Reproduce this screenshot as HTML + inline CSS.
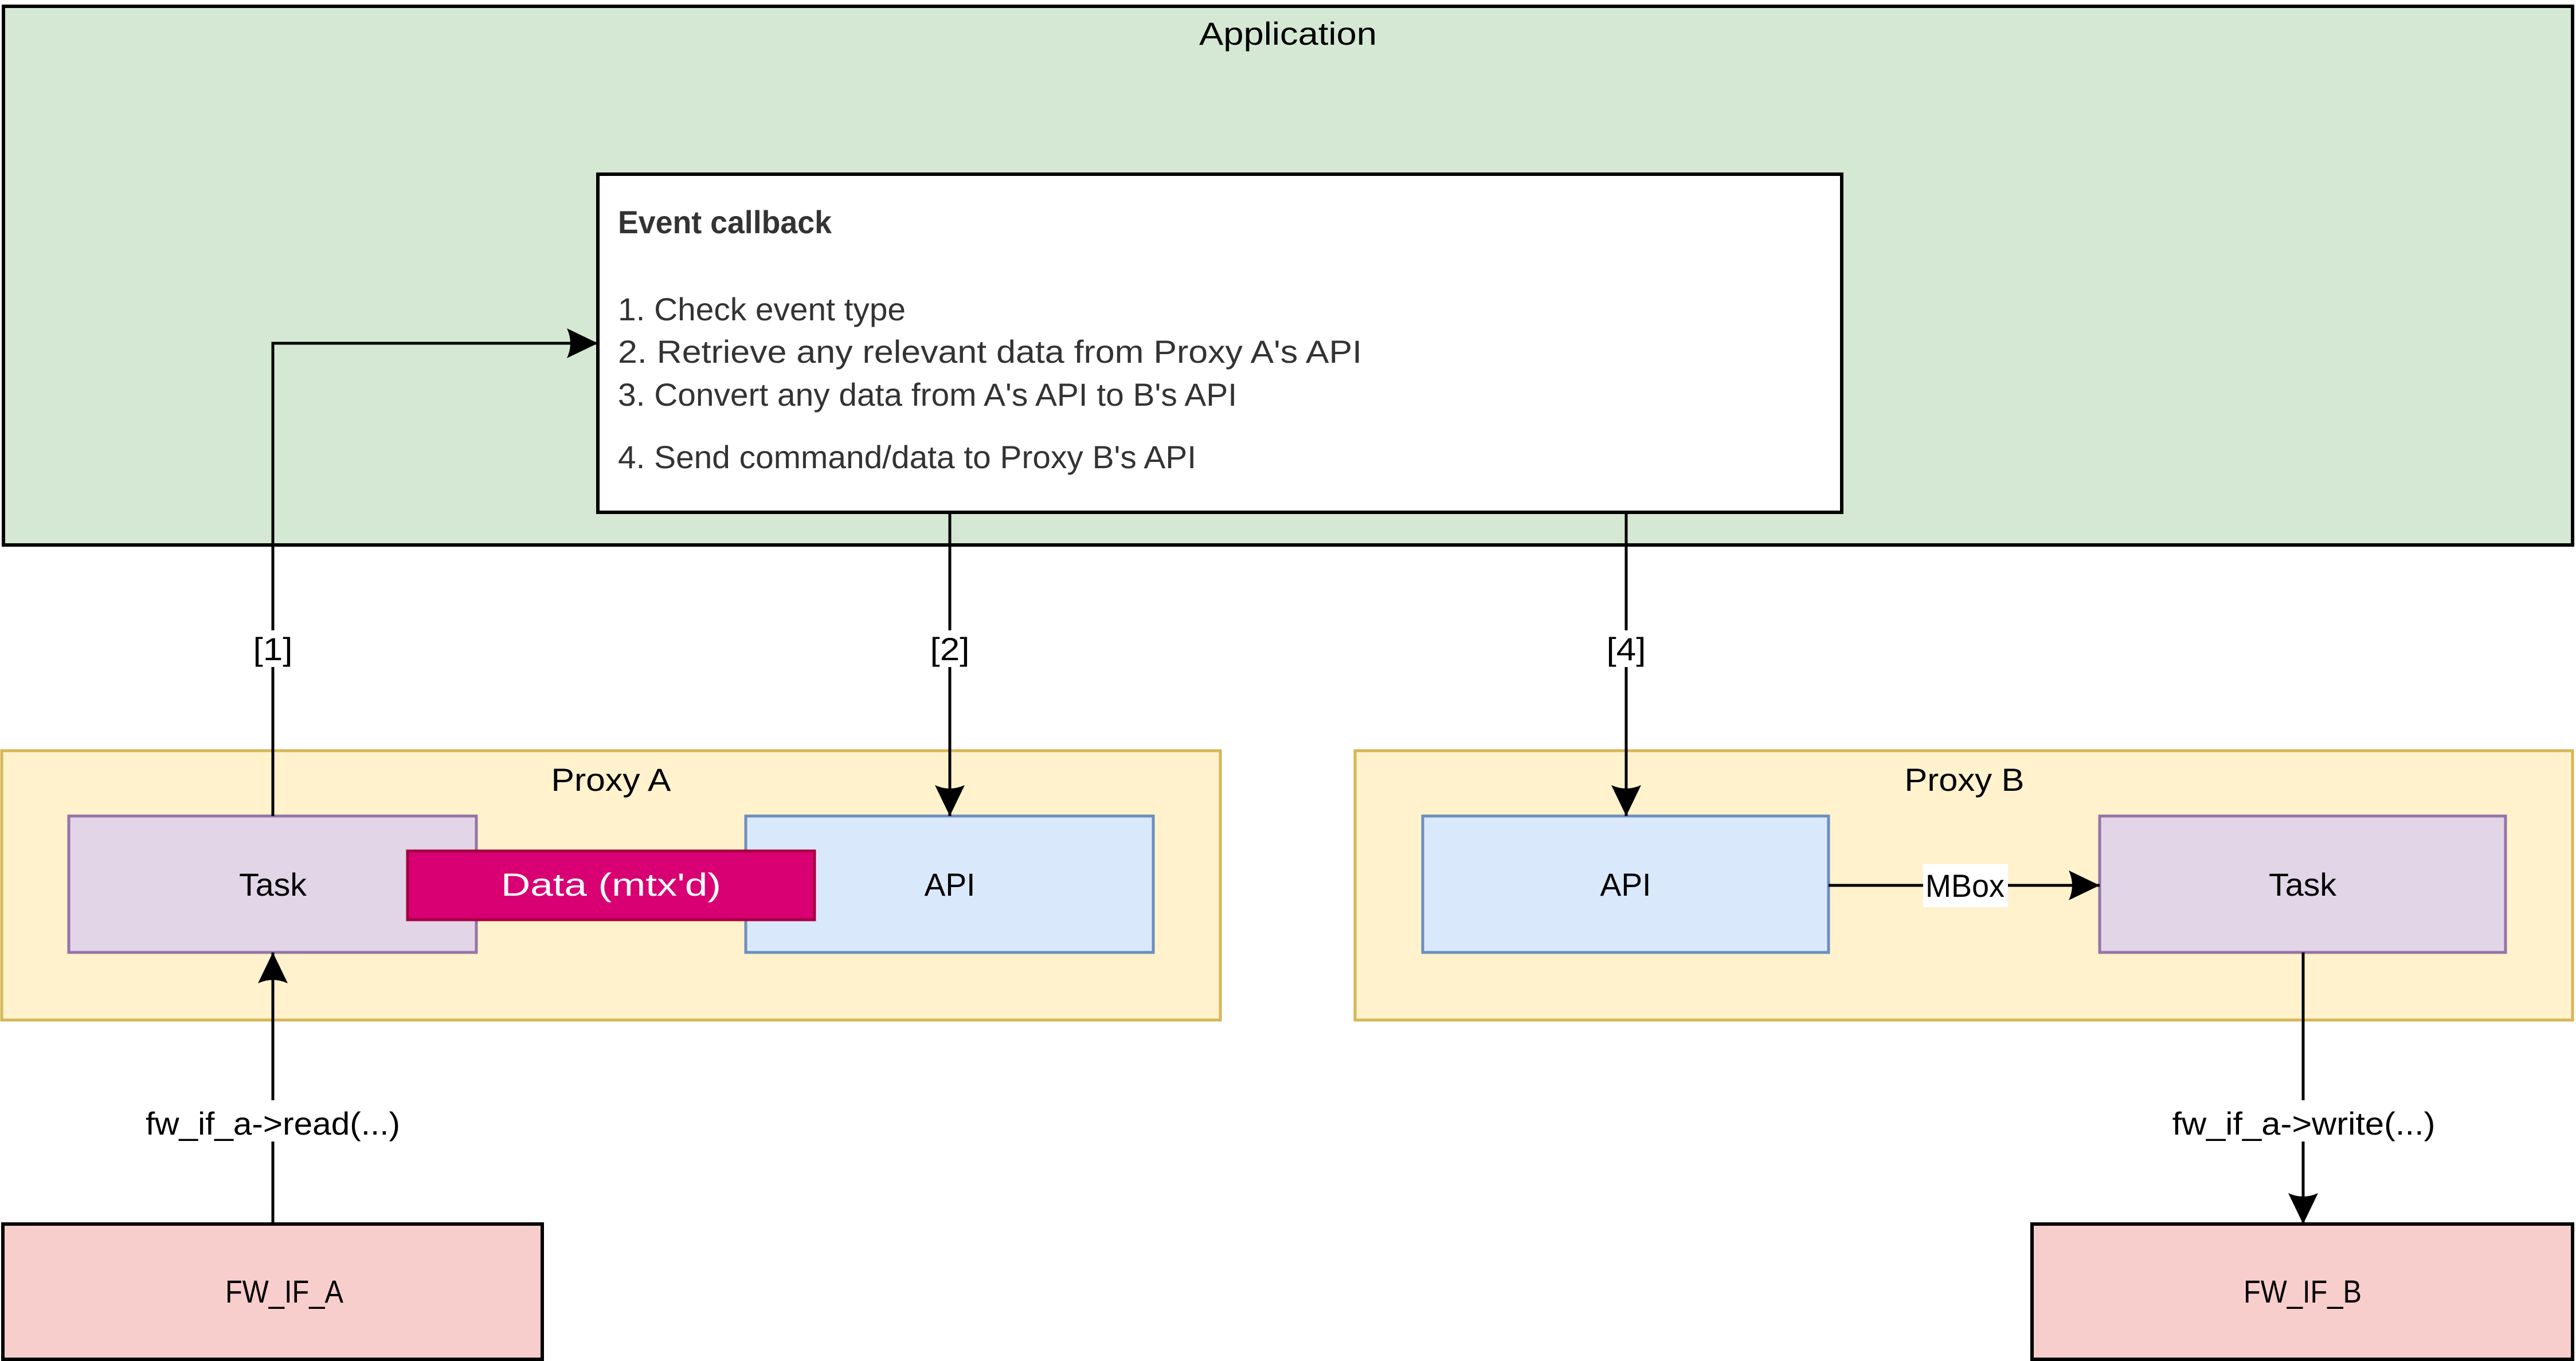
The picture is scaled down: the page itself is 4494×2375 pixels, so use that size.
<!DOCTYPE html>
<html><head><meta charset="utf-8"><style>html,body{margin:0;padding:0;background:#fff}svg{display:block}</style></head>
<body>
<svg width="4494" height="2375" viewBox="0 0 4494 2375" xmlns="http://www.w3.org/2000/svg" font-family="Liberation Sans, sans-serif" font-size="56">
<defs>
<marker id="ah" markerUnits="userSpaceOnUse" markerWidth="60" markerHeight="60" viewBox="0 0 60 60" refX="56" refY="30" orient="auto">
<path d="M2,4 L56,30 L2,56 Q14,30 2,4 Z" fill="#000"/>
</marker>
</defs>
<rect x="6" y="11" width="4482" height="940" fill="#d5e8d4" stroke="#000" stroke-width="6"/>
<text x="2247" y="78" text-anchor="middle" textLength="310" lengthAdjust="spacingAndGlyphs">Application</text>
<rect x="1043" y="304" width="2170" height="590" fill="#fff" stroke="#000" stroke-width="6"/>
<g fill="#333">
<text x="1078" y="407" font-weight="bold" textLength="373" lengthAdjust="spacingAndGlyphs">Event callback</text>
<text x="1078" y="559" textLength="502" lengthAdjust="spacingAndGlyphs">1. Check event type</text>
<text x="1078" y="633" textLength="1298" lengthAdjust="spacingAndGlyphs">2. Retrieve any relevant data from Proxy A's API</text>
<text x="1078" y="708" textLength="1080" lengthAdjust="spacingAndGlyphs">3. Convert any data from A's API to B's API</text>
<text x="1078" y="817" textLength="1009" lengthAdjust="spacingAndGlyphs">4. Send command/data to Proxy B's API</text>
</g>
<rect x="3" y="1310" width="2126" height="470" fill="#fff2cc" stroke="#d6b656" stroke-width="5"/>
<text x="1066" y="1380" text-anchor="middle" textLength="209" lengthAdjust="spacingAndGlyphs">Proxy A</text>
<rect x="120" y="1424" width="711" height="238" fill="#e1d5e7" stroke="#9673a6" stroke-width="5"/>
<text x="476" y="1563" text-anchor="middle" textLength="118" lengthAdjust="spacingAndGlyphs">Task</text>
<rect x="1301" y="1424" width="711" height="238" fill="#dae8fc" stroke="#6c8ebf" stroke-width="5"/>
<text x="1657" y="1563" text-anchor="middle" textLength="89" lengthAdjust="spacingAndGlyphs">API</text>
<rect x="711" y="1485" width="710" height="120" fill="#d80073" stroke="#a50040" stroke-width="5"/>
<text x="1066" y="1563" text-anchor="middle" fill="#fff" textLength="384" lengthAdjust="spacingAndGlyphs">Data (mtx'd)</text>
<rect x="2364" y="1310" width="2124" height="470" fill="#fff2cc" stroke="#d6b656" stroke-width="5"/>
<text x="3427" y="1380" text-anchor="middle" textLength="209" lengthAdjust="spacingAndGlyphs">Proxy B</text>
<rect x="2482" y="1424" width="708" height="238" fill="#dae8fc" stroke="#6c8ebf" stroke-width="5"/>
<text x="2836" y="1563" text-anchor="middle" textLength="89" lengthAdjust="spacingAndGlyphs">API</text>
<rect x="3663" y="1424" width="708" height="238" fill="#e1d5e7" stroke="#9673a6" stroke-width="5"/>
<text x="4017" y="1563" text-anchor="middle" textLength="118" lengthAdjust="spacingAndGlyphs">Task</text>
<rect x="5" y="2136" width="941" height="236" fill="#f8cecc" stroke="#000" stroke-width="6"/>
<text x="496" y="2273" text-anchor="middle" textLength="206" lengthAdjust="spacingAndGlyphs">FW_IF_A</text>
<rect x="3545" y="2136" width="943" height="236" fill="#f8cecc" stroke="#000" stroke-width="6"/>
<text x="4017" y="2273" text-anchor="middle" textLength="206" lengthAdjust="spacingAndGlyphs">FW_IF_B</text>
<g stroke="#000" stroke-width="5" fill="none">
<path d="M476,1424 L476,599 L1043,599" marker-end="url(#ah)"/>
<path d="M1657,894 L1657,1424" marker-end="url(#ah)"/>
<path d="M2837,894 L2837,1424" marker-end="url(#ah)"/>
<path d="M3190,1545 L3663,1545" marker-end="url(#ah)"/>
<path d="M476,2136 L476,1662" marker-end="url(#ah)"/>
<path d="M4018,1662 L4018,2136" marker-end="url(#ah)"/>
</g>
<rect x="436" y="1100" width="80" height="64" fill="#fff"/>
<text x="476" y="1152" text-anchor="middle" textLength="69" lengthAdjust="spacingAndGlyphs">[1]</text>
<rect x="1617" y="1100" width="80" height="64" fill="#fff"/>
<text x="1657" y="1152" text-anchor="middle" textLength="69" lengthAdjust="spacingAndGlyphs">[2]</text>
<rect x="2797" y="1100" width="80" height="64" fill="#fff"/>
<text x="2837" y="1152" text-anchor="middle" textLength="69" lengthAdjust="spacingAndGlyphs">[4]</text>
<rect x="3355" y="1508" width="148" height="75" fill="#fff"/>
<text x="3428" y="1565" text-anchor="middle" textLength="138" lengthAdjust="spacingAndGlyphs">MBox</text>
<rect x="250" y="1920" width="452" height="72" fill="#fff"/>
<text x="476" y="1980" text-anchor="middle" textLength="444" lengthAdjust="spacingAndGlyphs">fw_if_a-&gt;read(...)</text>
<rect x="3788" y="1920" width="462" height="72" fill="#fff"/>
<text x="4019" y="1980" text-anchor="middle" textLength="459" lengthAdjust="spacingAndGlyphs">fw_if_a-&gt;write(...)</text>
</svg>
</body></html>
